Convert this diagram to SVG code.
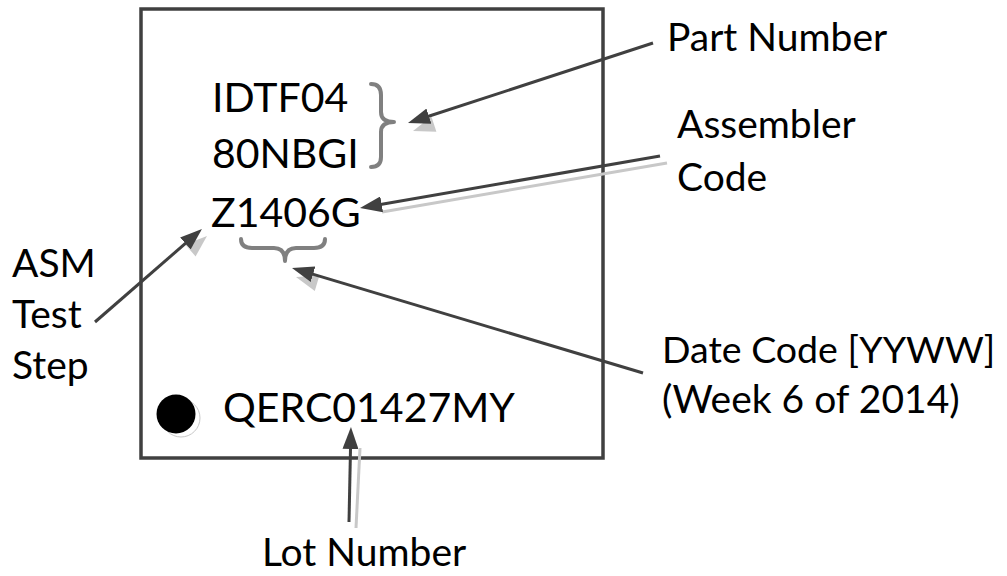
<svg xmlns="http://www.w3.org/2000/svg" width="1007" height="576" viewBox="0 0 1007 576">
<style>
text{font-family:Lato,"Liberation Sans",sans-serif;fill:#000}
.mark{font-size:41px}
.lbl{font-size:39px}
.brace{fill:none;stroke:#808080;stroke-width:4;stroke-linecap:round;stroke-linejoin:round}
.arrow{fill:none;stroke:#404040;stroke-width:3;marker-end:url(#head)}
.shl{fill:none;stroke:#c8c8c8;stroke-width:3}
.shh{fill:#c8c8c8}
</style>
<defs>
<marker id="head" markerUnits="userSpaceOnUse" viewBox="0 0 22 16" refX="10" refY="8" markerWidth="22" markerHeight="16" orient="auto">
<path d="M0,0 L22,8 L0,16 Z" fill="#404040"/>
</marker>
</defs>
<rect width="1007" height="576" fill="#fff"/>
<g id="chip">
<rect x="141" y="9" width="462" height="449" fill="none" stroke="#404040" stroke-width="3.5"/>
<circle cx="181" cy="418" r="19" fill="#fff" stroke="#c8c8c8" stroke-width="1"/>
<circle cx="176" cy="414" r="19.5" fill="#000"/>
<text class="mark" x="212" y="112">IDTF04</text>
<text class="mark" x="212" y="168">80NBGI</text>
<text class="mark" x="211" y="227">Z1406G</text>
<text class="mark" x="223" y="422">QERC01427MY</text>
<path class="brace" d="M371,84 Q381,84 381,95 L381,112 Q381,122 394,122 Q381,122 381,132 L381,157 Q381,167 371,167"/>
<path class="brace" d="M241,239 Q241,248 252,248 L274,248 Q285,248 285,261 Q285,248 296,248 L314,248 Q325,248 325,239"/>
</g>
<g id="labels">
<text id="part-number" class="lbl" x="667" y="51">Part Number</text>
<text id="assembler-code" class="lbl" x="677" y="138">Assembler<tspan x="677" y="191">Code</tspan></text>
<text id="date-code" class="lbl" x="662" y="363"><tspan font-size="37.5">Date Code [YYWW]</tspan><tspan x="662" y="413">(Week 6 of 2014)</tspan></text>
<text id="asm-test-step" class="lbl" x="12" y="277">ASM<tspan x="12" y="328">Test</tspan><tspan x="12" y="379">Step</tspan></text>
<text id="lot-number" class="lbl" x="262" y="566">Lot Number</text>
</g>
<g id="connectors">
<polygon class="shh" points="413,131 436.4,131.8 431.4,116.6"/>
<polygon class="shh" points="207,236 195.6,256.4 185.2,244.4"/>
<polygon class="shh" points="296,277 319.4,275.6 314.8,291"/>
<line class="shl" x1="382" y1="212" x2="667" y2="163"/>
<line class="shl" x1="360" y1="448" x2="356" y2="528"/>
<line class="arrow" x1="653" y1="43" x2="419.4" y2="119.3"/>
<line class="arrow" x1="660" y1="156" x2="371.8" y2="206"/>
<line class="arrow" x1="95" y1="322" x2="192.9" y2="236.9"/>
<line class="arrow" x1="643" y1="373" x2="303.5" y2="271.4"/>
<line class="arrow" x1="349" y1="522" x2="350.7" y2="439"/>
</g>
</svg>
